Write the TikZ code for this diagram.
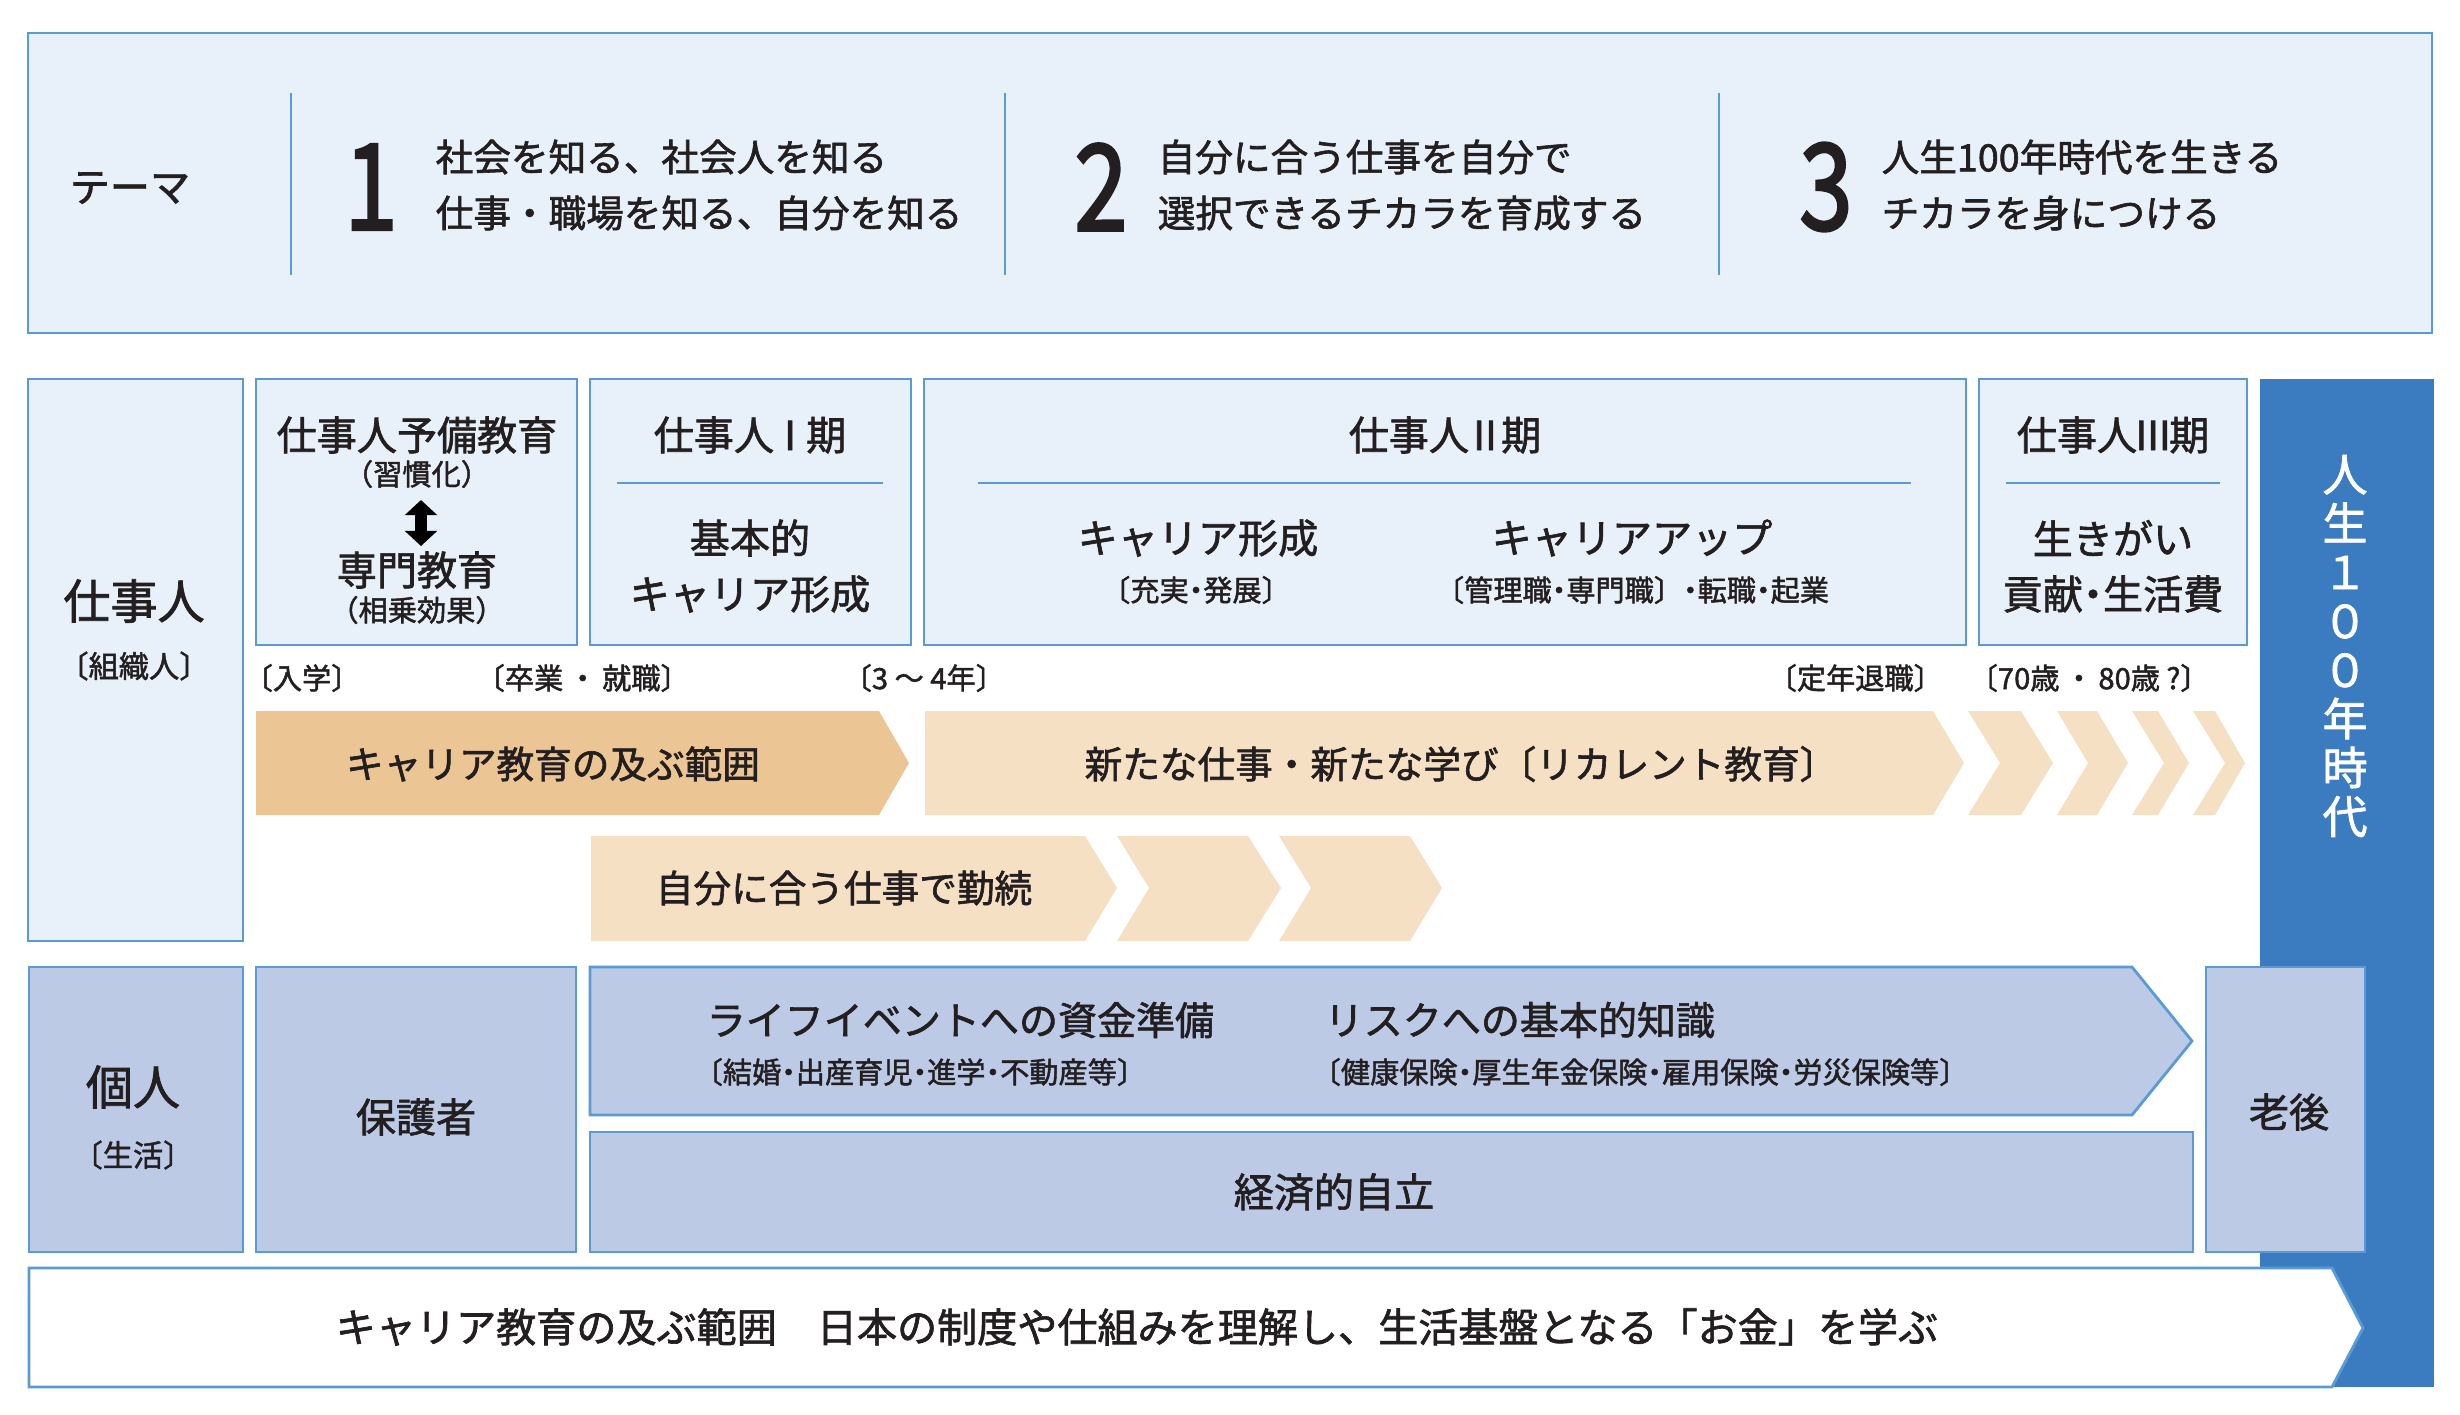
\documentclass[tikz,border=0pt]{standalone}
\usepackage{fontspec}
\setmainfont{Noto Sans CJK JP}[FakeBold=1.6]
\newfontfamily\numfont{Noto Sans CJK JP}[FakeBold=2.5]
\usetikzlibrary{arrows.meta}
\definecolor{bord}{RGB}{91,155,213}
\definecolor{lfill}{RGB}{232,240,249}
\definecolor{pfill}{RGB}{188,202,230}
\definecolor{dorange}{RGB}{235,197,148}
\definecolor{lorange}{RGB}{246,224,196}
\definecolor{bluebar}{RGB}{59,123,191}
\definecolor{ink}{RGB}{35,31,32}
\newcommand\fz[1]{\fontsize{#1pt}{#1pt}\selectfont}
\newcommand\hd{\kern-0.25em・\kern-0.25em}
\begin{document}
\begin{tikzpicture}[x=0.01cm,y=-0.01cm,
  every node/.style={text=ink,inner sep=0pt},
  lbox/.style={draw=bord,line width=0.8pt,fill=lfill},
  pbox/.style={draw=bord,line width=0.8pt,fill=pfill},
  divl/.style={draw=bord,line width=0.45pt},
  subl/.style={draw=bord,line width=0.6pt},
  theme/.style={font=\fz{10.7},anchor=west},
  bignum/.style={font=\numfont\fz{34}},
  head/.style={font=\fz{11.4}},
  big/.style={font=\fz{13.4}},
  small/.style={font=\fz{8.3}},
  lab/.style={font=\fz{8.3},anchor=west},
  arrtxt/.style={font=\fz{10.7}}]
\useasboundingbox (0,0) rectangle (2460,1414);
% theme
\draw[lbox] (28,33) rectangle (2432,333);
\draw[divl] (291,93) -- (291,275);
\draw[divl] (1005,93) -- (1005,275);
\draw[divl] (1719,93) -- (1719,275);
\node[font=\fz{11.4}] (t0) at (130,188) {テーマ};
\node[bignum] (num1) at (371,187) {\scalebox{0.8}[1]{1}};
\node[theme] (t1a) at (435,157) {社会を知る、社会人を知る};
\node[theme] (t1b) at (435,213) {仕事・職場を知る、自分を知る};
\node[bignum] (num2) at (1101,187) {\scalebox{0.8}[1]{2}};
\node[theme] (t2a) at (1157,157) {自分に合う仕事を自分で};
\node[theme] (t2b) at (1157,213) {選択できるチカラを育成する};
\node[bignum] (num3) at (1826,187) {\scalebox{0.8}[1]{3}};
\node[theme] (t3a) at (1881,157) {人生100年時代を生きる};
\node[theme] (t3b) at (1881,213) {チカラを身につける};
% blue bar
\fill[bluebar] (2260,379) rectangle (2434,1387);
\node[font=\fz{12.8},text=white,align=center,
  execute at begin node=\setlength{\baselineskip}{13.9pt}] (life) at (2345,646)
  {人\\生\\１\\０\\０\\年\\時\\代};
% row 2 boxes
\draw[lbox] (28,379) rectangle (243,941);
\draw[lbox] (256,379) rectangle (577,645);
\draw[lbox] (590,379) rectangle (911,645);
\draw[lbox] (924,379) rectangle (1966,645);
\draw[lbox] (1979,379) rectangle (2247,645);
\draw[subl] (617,483) -- (883,483);
\draw[subl] (978,483) -- (1911,483);
\draw[subl] (2006,483) -- (2220,483);
\node[big] (k1) at (134,601) {仕事人};
\node[font=\fz{8.6}] (k1s) at (134,666) {〔組織人〕};
\node[head] (yb) at (417,435) {仕事人予備教育};
\node[small] (ybs) at (417,474) {（習慣化）};
\coordinate (ua) at (421,500);
\coordinate (ub) at (421,546);
\draw[line width=3.4pt,{Triangle[width=9pt,length=4.3pt]}-{Triangle[width=9pt,length=4.3pt]}] (ua) -- (ub);
\node[head] (sm) at (417,570) {専門教育};
\node[small] (sms) at (417,610) {（相乗効果）};
\node[head] (p1h) at (750,435) {仕事人\kern-0.1emⅠ\kern-0.1em 期};
\node[head] (p1a) at (750,538) {基本的};
\node[head] (p1b) at (750,594) {キャリア形成};
\node[head] (p2h) at (1445,435) {仕事人\kern-0.1emⅡ\kern-0.1em 期};
\node[head] (p2a) at (1198,538) {キャリア形成};
\node[small] (p2as) at (1196,590) {〔充実\hd 発展〕};
\node[head] (p2b) at (1632,538) {キャリアアップ};
\node[small] (p2bs) at (1632,590) {〔管理職\hd 専門職〕\hd 転職\hd 起業};
\node[head] (p3h) at (2113,435) {仕事人\kern-0.1emⅢ\kern-0.1em 期};
\node[head] (p3a) at (2113,538) {生きがい};
\node[head] (p3b) at (2113,594) {貢献\hd 生活費};
% labels
\node[lab] (l1) at (243,678) {〔入学〕};
\node[lab] (l2) at (475,678) {〔卒業\,・\,就職〕};
\node[lab] (l3) at (842,678) {〔3 ～ 4年〕};
\node[lab] (l4) at (1767,678) {〔定年退職〕};
\node[lab] (l5) at (1968,678) {〔70歳\,・\,80歳 ?〕};
% arrows row 1
\fill[dorange] (256,711) -- (879,711) -- (909,763) -- (879,815) -- (256,815) -- cycle;
\fill[lorange] (925,711) -- (1933,711) -- (1964,763) -- (1933,815) -- (925,815) -- cycle;
\fill[lorange] (1968,711) -- (2021,711) -- (2053,763) -- (2021,815) -- (1968,815) -- (2000,763) -- cycle;
\fill[lorange] (2057,711) -- (2097,711) -- (2128,763) -- (2097,815) -- (2057,815) -- (2088,763) -- cycle;
\fill[lorange] (2132,711) -- (2158,711) -- (2189,763) -- (2158,815) -- (2132,815) -- (2164,763) -- cycle;
\fill[lorange] (2193,711) -- (2215,711) -- (2245,763) -- (2215,815) -- (2193,815) -- (2225,763) -- cycle;
\node[arrtxt] (a1) at (553,764) {キャリア教育の及ぶ範囲};
\node[arrtxt] (a2) at (1461,764) {新たな仕事・新たな学び〔リカレント教育〕};
% arrows row 2
\fill[lorange] (591,836) -- (1085,836) -- (1117,888) -- (1085,941) -- (591,941) -- cycle;
\fill[lorange] (1117,836) -- (1248,836) -- (1281,888) -- (1248,941) -- (1117,941) -- (1149,888) -- cycle;
\fill[lorange] (1279,836) -- (1410,836) -- (1442,888) -- (1410,941) -- (1279,941) -- (1311,888) -- cycle;
\node[arrtxt] (a3) at (844,888) {自分に合う仕事で勤続};
% row 3
\draw[pbox] (29,967) rectangle (243,1252);
\draw[pbox] (256,967) rectangle (576,1252);
\draw[pbox] (590,967) -- (2132,967) -- (2192,1041) -- (2132,1115) -- (590,1115) -- cycle;
\draw[pbox] (590,1132) rectangle (2193,1252);
\draw[pbox] (2206,967) rectangle (2365,1252);
\node[big] (ko) at (133,1087) {個人};
\node[font=\fz{8.6}] (kos) at (133,1155) {〔生活〕};
\node[head] (ho) at (416,1117) {保護者};
\node[font=\fz{11.1},anchor=west] (lf) at (706,1020) {ライフイベントへの資金準備};
\node[small,anchor=west] (lfs) at (693,1072) {〔結婚\hd 出産育児\hd 進学\hd 不動産等〕};
\node[font=\fz{11.1},anchor=west] (rk) at (1324,1020) {リスクへの基本的知識};
\node[small,anchor=west] (rks) at (1311,1072) {〔健康保険\hd 厚生年金保険\hd 雇用保険\hd 労災保険等〕};
\node[head] (kz) at (1334,1192) {経済的自立};
\node[head] (rg) at (2289,1112) {老後};
% bottom arrow
\draw[draw=bord,line width=0.8pt,fill=white] (29,1268) -- (2332,1268) -- (2363,1328) -- (2332,1387) -- (29,1387) -- cycle;
\node[font=\fz{11.4}] (bt) at (1137,1327) {キャリア教育の及ぶ範囲\quad 日本の制度や仕組みを理解し、生活基盤となる「お金」を学ぶ};
\end{tikzpicture}
\end{document}
